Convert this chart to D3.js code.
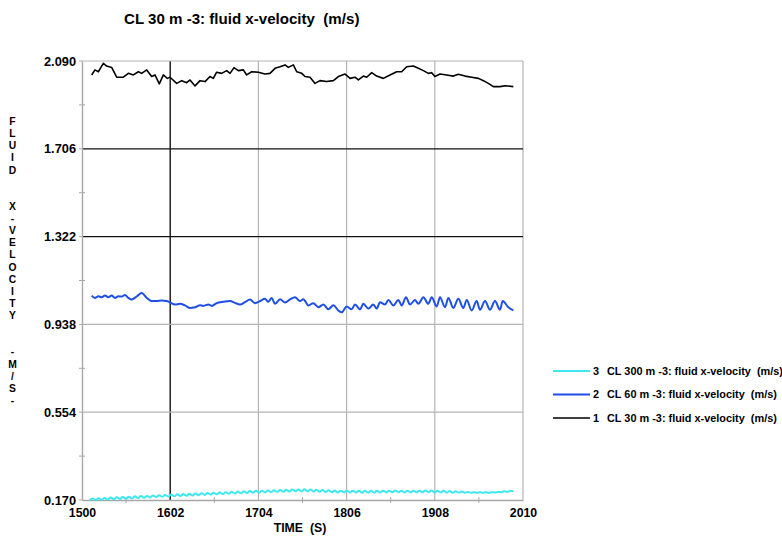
<!DOCTYPE html>
<html><head><meta charset="utf-8">
<script src="https://cdn.jsdelivr.net/npm/d3@7"></script>
<style>
body{margin:0;background:#fff}
svg{display:block}
text{font-family:"Liberation Sans",Arial,Helvetica,sans-serif;font-weight:bold;fill:#000;white-space:pre}
</style>
</head><body>
<svg id="c" width="782" height="551"></svg>
<script>
const title = "CL 30 m -3: fluid x-velocity  (m/s)";
const xLabel = "TIME  (S)";
const yLabel = "FLUID  X-VELOCITY  -M/S-";
const xTicks = [1500, 1602, 1704, 1806, 1908, 2010];
const xMinor = [1551, 1653, 1755, 1857, 1959];
const yTicks = [0.170, 0.554, 0.938, 1.322, 1.706, 2.090];
const yMinor = [0.362, 0.746, 1.130, 1.514, 1.898];
const darkX = [1602];
const darkY = [1.322, 1.706];

const seriesNames = ["CL 300 m -3: fluid x-velocity  (m/s)", "CL 60 m -3: fluid x-velocity  (m/s)", "CL 30 m -3: fluid x-velocity  (m/s)"];
const seriesIds = [3, 2, 1];
const seriesColors = ["#3ee8ee", "#1e4fe6", "#000000"];

const t1 = [1511.2,1515.0,1518.9,1524.7,1528.5,1534.3,1540.1,1547.8,1553.6,1559.4,1565.2,1569.0,1574.8,1580.6,1584.4,1589.4,1594.1,1598.7,1601.8,1609.5,1615.3,1621.1,1624.9,1630.7,1636.5,1642.3,1648.0,1651.9,1655.7,1661.5,1667.3,1671.2,1675.8,1680.8,1686.6,1690.4,1696.2,1703.9,1711.6,1717.4,1723.2,1729.0,1734.8,1738.6,1744.4,1748.3,1754.1,1757.9,1763.7,1769.5,1775.3,1783.0,1790.7,1796.5,1804.2,1810.0,1815.7,1819.6,1825.4,1829.2,1835.0,1840.8,1848.5,1856.2,1863.9,1869.7,1875.5,1883.2,1889.0,1894.8,1900.5,1904.4,1908.2,1914.0,1921.7,1929.4,1935.2,1943.0,1950.7,1958.4,1964.2,1969.9,1975.7,1983.4,1989.2,1998.8];
const v1 = [2.029,2.051,2.043,2.080,2.068,2.062,2.019,2.019,2.036,2.029,2.043,2.036,2.051,2.022,2.029,1.990,2.029,2.014,2.019,1.992,2.004,1.995,2.007,1.981,2.004,2.000,2.022,2.014,2.041,2.036,2.048,2.036,2.061,2.048,2.051,2.029,2.043,2.041,2.033,2.036,2.058,2.065,2.073,2.062,2.073,2.043,2.036,2.022,2.019,1.992,2.004,2.000,2.004,2.022,2.033,2.014,2.019,2.007,2.024,2.019,2.039,2.024,2.014,2.029,2.043,2.043,2.065,2.068,2.058,2.048,2.036,2.039,2.022,2.033,2.029,2.024,2.032,2.024,2.019,2.014,2.004,1.992,1.978,1.978,1.982,1.978];

const t2 = [1511.2,1515.0,1518.9,1522.7,1526.6,1530.5,1534.3,1538.2,1542.0,1545.9,1549.7,1553.6,1557.4,1563.2,1569.0,1574.8,1580.6,1586.4,1592.1,1597.9,1601.8,1607.6,1613.3,1619.1,1624.9,1630.7,1636.5,1640.3,1646.1,1650.0,1655.7,1663.5,1671.2,1677.0,1682.7,1688.5,1694.3,1700.1,1705.9,1711.6,1715.5,1719.4,1723.2,1729.0,1734.8,1740.6,1746.3,1752.1,1756.0,1761.8,1767.5,1773.3,1779.1,1784.9,1790.7,1796.5,1800.3,1806.1,1811.9,1815.7,1821.5,1825.4,1831.2,1836.9,1840.8,1844.6,1850.4,1854.3,1860.1,1865.8,1869.7,1874.7,1879.3,1885.1,1889.0,1894.8,1900.5,1904.4,1910.2,1914.0,1919.8,1923.7,1929.4,1935.2,1941.0,1944.9,1950.7,1956.4,1960.3,1966.1,1971.8,1977.6,1983.4,1986.5,1993.1,1998.8];
const v2 = [1.064,1.054,1.061,1.057,1.064,1.057,1.064,1.054,1.061,1.060,1.067,1.054,1.047,1.060,1.075,1.054,1.040,1.040,1.042,1.040,1.034,1.025,1.028,1.021,1.010,1.013,1.022,1.019,1.025,1.019,1.031,1.037,1.040,1.032,1.025,1.035,1.047,1.031,1.040,1.050,1.037,1.054,1.028,1.048,1.034,1.047,1.057,1.040,1.048,1.021,1.031,1.013,1.025,1.004,1.022,0.999,0.991,1.016,1.004,1.025,1.004,1.028,1.007,1.025,1.007,1.035,1.025,1.045,1.021,1.045,1.021,1.057,1.025,1.045,1.028,1.057,1.028,1.057,1.016,1.057,1.013,1.054,1.010,1.050,1.010,1.045,0.999,1.040,1.002,1.040,1.002,1.040,1.002,1.040,1.013,0.999];

const t3 = [1509,1512,1516,1519,1523,1526,1530,1533,1537,1540,1544,1547,1551,1554,1558,1561,1565,1568,1572,1575,1579,1582,1586,1589,1593,1596,1600,1603,1607,1610,1614,1617,1621,1624,1628,1631,1635,1638,1642,1645,1649,1652,1656,1659,1663,1666,1670,1673,1677,1680,1684,1687,1691,1694,1698,1701,1705,1708,1712,1715,1719,1722,1726,1729,1733,1736,1740,1743,1747,1750,1754,1757,1761,1764,1768,1771,1775,1778,1782,1785,1789,1792,1796,1799,1803,1806,1810,1813,1817,1820,1824,1827,1831,1834,1838,1841,1845,1848,1852,1855,1859,1862,1866,1869,1873,1876,1880,1883,1887,1890,1894,1897,1901,1904,1908,1911,1915,1918,1922,1925,1929,1932,1936,1939,1943,1946,1950,1953,1957,1960,1964,1967,1971,1974,1978,1981,1985,1988,1992,1995,1999];
const v3 = [0.169,0.177,0.170,0.178,0.171,0.179,0.172,0.181,0.173,0.182,0.175,0.183,0.176,0.184,0.177,0.186,0.178,0.187,0.180,0.188,0.181,0.190,0.182,0.191,0.184,0.192,0.185,0.194,0.186,0.195,0.187,0.196,0.189,0.197,0.190,0.198,0.191,0.200,0.192,0.201,0.193,0.202,0.195,0.203,0.196,0.204,0.197,0.206,0.198,0.207,0.199,0.208,0.201,0.209,0.202,0.210,0.202,0.211,0.203,0.212,0.204,0.213,0.205,0.214,0.206,0.215,0.207,0.216,0.208,0.216,0.208,0.217,0.208,0.216,0.207,0.215,0.206,0.214,0.205,0.213,0.204,0.212,0.203,0.211,0.203,0.211,0.203,0.211,0.203,0.211,0.202,0.210,0.202,0.210,0.202,0.210,0.203,0.211,0.203,0.211,0.204,0.212,0.204,0.211,0.203,0.211,0.203,0.211,0.203,0.211,0.204,0.212,0.204,0.212,0.203,0.211,0.203,0.210,0.202,0.209,0.202,0.208,0.202,0.207,0.202,0.205,0.202,0.204,0.202,0.204,0.202,0.204,0.202,0.204,0.203,0.205,0.204,0.208,0.206,0.210,0.208];

const svg = d3.select("#c");
const L = 82, R = 523, T = 61, B = 500;
const x = d3.scaleLinear().domain([1500, 2010]).range([L, R]);
const y = d3.scaleLinear().domain([0.170, 2.090]).range([B, T]);

svg.append("text").attr("x", 124).attr("y", 24).attr("font-size", 15.1).text(title);

const g = svg.append("g");
xTicks.slice(1).forEach(v => {
  g.append("line").attr("x1", x(v)).attr("x2", x(v)).attr("y1", T).attr("y2", B)
    .attr("stroke", darkX.includes(v) ? "#111" : "#b4b4b4")
    .attr("stroke-width", darkX.includes(v) ? 1.4 : 1.2);
});
yTicks.slice(1).forEach(v => {
  g.append("line").attr("x1", L).attr("x2", R).attr("y1", y(v)).attr("y2", y(v))
    .attr("stroke", darkY.includes(v) ? "#111" : "#b4b4b4")
    .attr("stroke-width", 1.2);
});

const ax = svg.append("g").attr("transform", `translate(0,${B})`)
  .call(d3.axisBottom(x).tickValues(xTicks).tickSize(0).tickPadding(8).tickFormat(d3.format("d")));
ax.select(".domain").attr("stroke", "#a8a8a8").attr("stroke-width", 1.4);
ax.selectAll("text").attr("font-size", 12.3).attr("fill", "#000");
const ay = svg.append("g").attr("transform", `translate(${L},0)`)
  .call(d3.axisLeft(y).tickValues(yTicks).tickSize(0).tickPadding(6).tickFormat(d3.format(".3f")));
ay.select(".domain").attr("stroke", "#a8a8a8").attr("stroke-width", 1.4);
ay.selectAll("text").attr("font-size", 12.8).attr("fill", "#000");

xMinor.forEach(v => g.append("line").attr("x1", x(v)).attr("x2", x(v)).attr("y1", B - 3).attr("y2", B + 3).attr("stroke", "#a8a8a8"));
yMinor.forEach(v => g.append("line").attr("x1", L - 3).attr("x2", L + 3).attr("y1", y(v)).attr("y2", y(v)).attr("stroke", "#a8a8a8"));
yTicks.forEach(v => g.append("line").attr("x1", L - 3).attr("x2", L).attr("y1", y(v)).attr("y2", y(v)).attr("stroke", "#a8a8a8"));

svg.append("text").attr("x", 300).attr("y", 532).attr("text-anchor", "middle").attr("font-size", 12.3).text(xLabel);

Array.from(yLabel).forEach((ch, i) => {
  if (ch === " ") return;
  svg.append("text").attr("x", 12.5).attr("y", 125 + i * 12.13).attr("text-anchor", "middle").attr("font-size", 10.3).text(ch);
});

const series = [
  {t: t3, v: v3, w: 2, c: d3.curveMonotoneX},
  {t: t2, v: v2, w: 2, c: d3.curveMonotoneX},
  {t: t1, v: v1, w: 1.6, c: d3.curveLinear}
];
series.forEach((s, i) => {
  const line = d3.line().x(d => x(d[0])).y(d => y(d[1])).curve(s.c);
  svg.append("path").datum(s.t.map((tt, k) => [tt, s.v[k]]))
    .attr("fill", "none").attr("stroke", seriesColors[i]).attr("stroke-width", s.w)
    .attr("stroke-linejoin", "round").attr("d", line);
});

const lg = svg.append("g");
seriesNames.forEach((nm, i) => {
  const yy = 371 + i * 23.5;
  lg.append("line").attr("x1", 553).attr("x2", 590).attr("y1", yy).attr("y2", yy)
    .attr("stroke", seriesColors[i]).attr("stroke-width", i === 2 ? 1.5 : 2);
  lg.append("text").attr("x", 593).attr("y", yy + 3.8).attr("font-size", 10.9).text(seriesIds[i]);
  lg.append("text").attr("x", 607).attr("y", yy + 3.8).attr("font-size", 10.9).text(nm);
});
</script>
</body></html>
